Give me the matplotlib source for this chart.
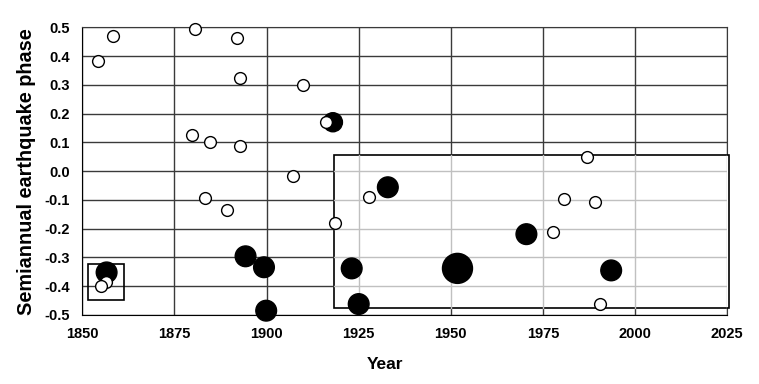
import matplotlib
matplotlib.use('Agg')
import matplotlib.pyplot as plt
from matplotlib.patches import Rectangle

plt.rcParams['font.family'] = ['Liberation Sans', 'DejaVu Sans']
plt.rcParams['font.weight'] = 'bold'

# open circles (year, phase)
open_year = [1854.2, 1858.4, 1880.5, 1892.0, 1892.7, 1909.8, 1879.8, 1884.7, 1892.7,
             1907.1, 1883.2, 1889.3, 1856.4, 1855.0, 1916.0, 1927.9, 1918.5,
             1987.0, 1980.8, 1989.2, 1977.8, 1990.5]
open_phase = [0.384, 0.469, 0.493, 0.464, 0.323, 0.298, 0.125, 0.100, 0.086,
              -0.017, -0.094, -0.135, -0.384, -0.399, 0.170, -0.091, -0.181,
              0.048, -0.096, -0.107, -0.213, -0.463]

# filled circles (year, phase, relative weight)
big_year = [1856.6, 1894.3, 1899.3, 1899.9, 1918.0, 1932.9, 1923.1, 1925.0,
            1951.8, 1970.5, 1993.5]
big_phase = [-0.352, -0.296, -0.334, -0.485, 0.170, -0.056, -0.338, -0.462,
             -0.338, -0.219, -0.345]
big_weight = [1, 1, 1, 1, 0.85, 1, 1, 1, 2.1, 1, 1]

x_ticks = [1850, 1875, 1900, 1925, 1950, 1975, 2000, 2025]
y_ticks = [0.5, 0.4, 0.3, 0.2, 0.1, 0.0, -0.1, -0.2, -0.3, -0.4, -0.5]

fig = plt.figure(figsize=(7.59, 3.84), dpi=100)
ax = fig.add_axes([0.1084, 0.1797, 0.8498, 0.7492])
ax.set_xlim(1850, 2025)
ax.set_ylim(-0.5, 0.5)

dark = '#3a3a3a'
light = '#c0c0c0'
for xt in x_ticks:
    ax.axvline(xt, color=dark, lw=1, zorder=1)
for yt in y_ticks:
    ax.axhline(yt, color=dark, lw=1, zorder=1)

# big box: white fill, light grid inside
bx0, bx1, by0, by1 = 1918.2, 2025.5, -0.475, 0.055
box = Rectangle((bx0, by0), bx1 - bx0, by1 - by0, facecolor='white',
                edgecolor='black', lw=1.2, zorder=2, clip_on=False)
ax.add_patch(box)
for xt in x_ticks:
    if bx0 < xt < bx1:
        ax.plot([xt, xt], [by0, by1], color=light, lw=1, zorder=2.5)
for yt in y_ticks:
    if by0 < yt < by1:
        ax.plot([bx0, min(bx1, 2025)], [yt, yt], color=light, lw=1, zorder=2.5)

# small box
ax.add_patch(Rectangle((1851.6, -0.448), 9.8, 0.124, facecolor='none',
                       edgecolor='black', lw=1.2, zorder=3))

ax.scatter(big_year, big_phase, s=[222 * w for w in big_weight], c='black',
           edgecolors='black', zorder=4, clip_on=False)
ax.scatter(open_year, open_phase, s=72, facecolors='white', edgecolors='black',
           linewidths=1, zorder=5, clip_on=False)

ax.set_xticks(x_ticks)
ax.set_yticks(y_ticks)
ax.set_yticklabels([f'{v:.1f}' for v in y_ticks])
ax.tick_params(length=0, labelsize=10.5, pad=9)
for sp in ax.spines.values():
    sp.set_color(dark)
    sp.set_zorder(1.5)
ax.spines['bottom'].set_color('black')
ax.spines['left'].set_color('black')

ax.set_xlabel('Year', fontsize=12.5, fontweight='bold')
ax.xaxis.set_label_coords(0.47, -0.145)
ax.set_ylabel('Semiannual earthquake phase', fontsize=14.3, fontweight='bold')
ax.yaxis.set_label_coords(-0.072, 0.5)

fig.savefig('out.png', dpi=100)
